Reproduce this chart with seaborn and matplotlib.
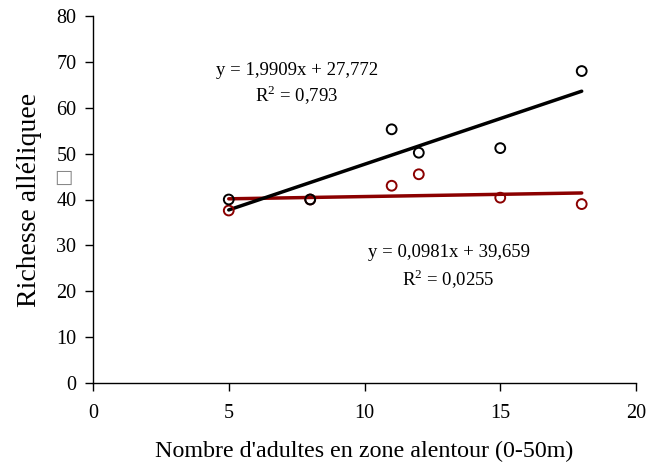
import matplotlib
matplotlib.use("Agg")
import matplotlib.pyplot as plt
import seaborn as sns
import numpy as np
import pandas as pd

# Data
x_vals = [5, 8, 11, 12, 15, 18]
y_black = [40.0, 40.0, 55.3, 50.2, 51.2, 68.0]
y_red = [37.6, 40.0, 43.0, 45.5, 40.4, 39.0]
fit_black = (1.9909, 27.772)
fit_red = (0.0981, 39.659)
eq_black = ["y = 1,9909x + 27,772", r"R$^\mathregular{2}$ = 0,793"]
eq_red = ["y = 0,0981x + 39,659", r"R$^\mathregular{2}$ = 0,0255"]
x_ticks = [0, 5, 10, 15, 20]
y_ticks = [0, 10, 20, 30, 40, 50, 60, 70, 80]
xlabel = "Nombre d'adultes en zone alentour (0-50m)"
ylabel = "Richesse alléliquee"

sns.set_theme(style="ticks")
plt.rcParams['font.family'] = ['Liberation Serif', 'DejaVu Serif']
plt.rcParams['text.color'] = 'black'
plt.rcParams['axes.labelcolor'] = 'black'
plt.rcParams['mathtext.fontset'] = 'custom'
plt.rcParams['mathtext.rm'] = 'Liberation Serif'

BLACK = "#000000"
RED = "#8B0000"

fig = plt.figure(figsize=(6.5, 4.68), dpi=100)
ax = fig.add_axes([93/650, 1-383/468, (636-93)/650, (383-16)/468])

df_b = pd.DataFrame({"x": x_vals, "y": y_black})
df_r = pd.DataFrame({"x": x_vals, "y": y_red})

# trendlines
xr = np.array([min(x_vals), max(x_vals)])
sns.lineplot(x=xr, y=fit_red[0]*xr + fit_red[1], color=RED, lw=2.5, ax=ax)
sns.lineplot(x=xr, y=fit_black[0]*xr + fit_black[1], color=BLACK, lw=2.5, ax=ax)

sns.scatterplot(data=df_r, x="x", y="y", marker="o", s=50, fc="none", ec=RED, linewidth=1.4, ax=ax, zorder=3)
sns.scatterplot(data=df_b, x="x", y="y", marker="o", s=50, fc="none", ec=BLACK, linewidth=1.4, ax=ax, zorder=4)

ax.set_xlim(0, 20)
ax.set_ylim(0, 80)
ax.set_xticks(x_ticks)
ax.set_yticks(y_ticks)
ax.tick_params(axis="both", direction="out", length=6, width=1, labelsize=14.5, colors="black")
ax.tick_params(axis="x", pad=9)
ax.tick_params(axis="y", pad=6)
for s in ["top", "right"]:
    ax.spines[s].set_visible(False)
for s in ["left", "bottom"]:
    ax.spines[s].set_color("black")
    ax.spines[s].set_linewidth(1)

ax.set_xlabel(xlabel, fontsize=17.3, labelpad=13, color="black")
ax.set_ylabel(ylabel, fontsize=20, labelpad=10, color="black")

ax.text(7.51, 68.2, eq_black[0], fontsize=13.5, ha="center", va="center", color="black")
ax.text(7.5, 62.8, eq_black[1], fontsize=13.5, ha="center", va="center", color="black")
ax.text(13.1, 28.5, eq_red[0], fontsize=13.5, ha="center", va="center", color="black")
ax.text(13.1, 22.6, eq_red[1], fontsize=13.5, ha="center", va="center", color="black")

fig.text(63/650, 1-177/468, "□", fontsize=14, color="#888888", ha="center", va="center", family=["DejaVu Sans"])

fig.savefig("out.png", dpi=100)
